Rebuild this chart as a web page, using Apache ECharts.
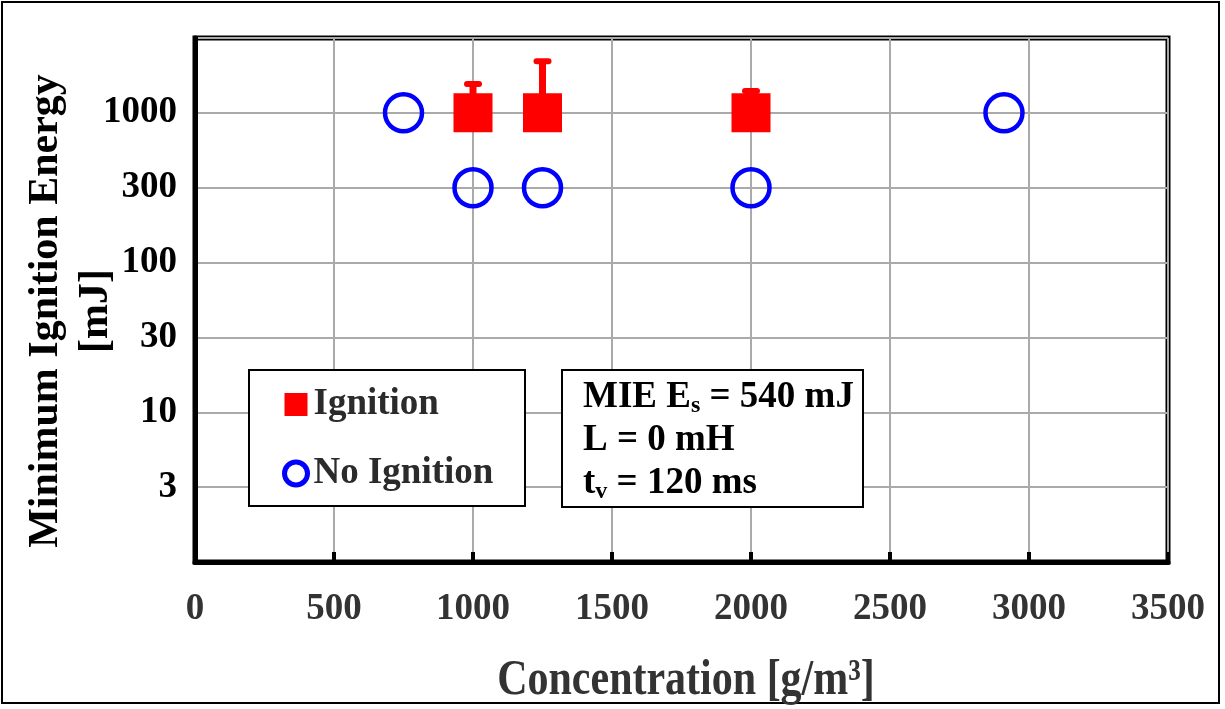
<!DOCTYPE html>
<html>
<head>
<meta charset="utf-8">
<style>
  html, body { margin: 0; padding: 0; background: #fff; }
  #chart { width: 1225px; height: 709px; }
</style>
<script src="https://cdn.jsdelivr.net/npm/echarts@6/dist/echarts.min.js"></script>
</head>
<body>
<div id="chart"></div>
<script>
// Concentration [g/m3] and energy [mJ] of each test
const ignitionConc = [1000, 1250, 2000];
const ignitionEnergy = [1000, 1000, 1000];
// upper end of the ignition error bars [mJ]
const ignitionUpper = [1560, 2210, 1400];

const noIgnitionConc = [750, 1000, 1250, 2000, 2910];
const noIgnitionEnergy = [1000, 316, 316, 316, 1000];

const xTicks = [0, 500, 1000, 1500, 2000, 2500, 3000, 3500];
const yTickLabels = ['3', '10', '30', '100', '300', '1000'];

const FONT = '"Liberation Serif", "Times New Roman", serif';
const chart = echarts.init(document.getElementById('chart'));

const ignitionData = ignitionConc.map((c, i) => [c, ignitionEnergy[i]]);
const noIgnitionData = noIgnitionConc.map((c, i) => [c, noIgnitionEnergy[i]]);
const errorData = ignitionConc.map((c, i) => [c, ignitionEnergy[i], ignitionUpper[i]]);

// half-decade tick values mapped to their rounded labels
function halfDecadeLabel(v) {
  const k = Math.round(Math.log10(v) * 2);
  if (k < 1 || k > 6) return '';
  return yTickLabels[k - 1];
}

const option = {
  backgroundColor: '#fff',
  animation: false,
  grid: {
    left: 195, right: 57, top: 38, bottom: 147,
    show: true, borderColor: '#000', borderWidth: 5, backgroundColor: 'transparent'
  },
  xAxis: {
    type: 'value',
    min: xTicks[0], max: xTicks[xTicks.length - 1], interval: 500,
    axisLine: { show: true, lineStyle: { color: '#000', width: 5 } },
    axisTick: { show: true, inside: true, length: 10, lineStyle: { color: '#000', width: 4 } },
    axisLabel: {
      fontFamily: FONT, fontWeight: 'bold', fontSize: 37, color: '#333', margin: 29,
      formatter: v => String(v)
    },
    splitLine: { show: true, lineStyle: { color: '#aaa', width: 2 } }
  },
  yAxis: {
    type: 'log',
    logBase: Math.sqrt(10),
    min: 1, max: Math.pow(10, 3.5),
    splitNumber: 7,
    axisLine: { show: true, lineStyle: { color: '#000', width: 5 } },
    axisTick: { show: false },
    axisLabel: {
      fontFamily: FONT, fontWeight: 'bold', fontSize: 37, color: '#000', margin: 18,
      showMinLabel: false, showMaxLabel: false,
      formatter: halfDecadeLabel
    },
    splitLine: { show: true, lineStyle: { color: '#aaa', width: 2 } }
  },
  legend: {
    orient: 'vertical',
    z: 30,
    left: 282, top: 386,
    padding: 0,
    itemWidth: 23, itemHeight: 23, itemGap: 32,
    textStyle: { fontFamily: FONT, fontWeight: 'bold', fontSize: 37, color: '#2b2b2b', padding: [0, 0, 0, 1] },
    data: [
      { name: 'Ignition', icon: 'rect' },
      { name: 'No Ignition', icon: 'circle',
        itemStyle: { color: 'rgba(0,0,0,0)', borderColor: '#0000ff', borderWidth: 5 } }
    ]
  },
  series: [
    {
      name: 'Ignition range',
      type: 'custom',
      z: 2,
      data: errorData,
      renderItem: function (params, api) {
        const base = api.coord([api.value(0), api.value(1)]);
        const top = api.coord([api.value(0), api.value(2)]);
        return {
          type: 'group',
          children: [
            { type: 'line', shape: { x1: base[0], y1: base[1], x2: top[0], y2: top[1] },
              style: { stroke: '#ff0000', lineWidth: 7 } },
            { type: 'rect', shape: { x: top[0] - 9, y: top[1] - 3, width: 18, height: 6, r: 3 },
              style: { fill: '#ff0000' } }
          ]
        };
      }
    },
    {
      name: 'Ignition',
      type: 'scatter',
      z: 3,
      symbol: 'rect',
      symbolSize: 39,
      itemStyle: { color: '#ff0000', opacity: 1 },
      data: ignitionData
    },
    {
      name: 'No Ignition',
      type: 'scatter',
      z: 3,
      symbol: 'circle',
      symbolSize: 37,
      itemStyle: { color: 'rgba(0,0,0,0)', borderColor: '#0000ff', borderWidth: 4.5, opacity: 1 },
      data: noIgnitionData
    }
  ],
  graphic: [
    // outer frame
    { type: 'rect', z: 0, shape: { x: 2, y: 2, width: 1217, height: 701 },
      style: { fill: 'none', stroke: '#000', lineWidth: 2 } },
    // legend frame
    { type: 'rect', z: 10, shape: { x: 249, y: 370, width: 276, height: 136 },
      style: { fill: '#fff', stroke: '#000', lineWidth: 2 } },
    // conditions box
    { type: 'rect', z: 10, shape: { x: 562, y: 370, width: 301, height: 137 },
      style: { fill: '#fff', stroke: '#000', lineWidth: 2 } },
    { type: 'text', z: 11, left: 583, top: 377,
      style: {
        text: '{m|MIE E}{s|s}{m| = 540 mJ}\n{m|L = 0 mH}\n{m|t}{s|v}{m| = 120 ms}',
        rich: {
          m: { fontFamily: FONT, fontWeight: 'bold', fontSize: 37, fill: '#000', lineHeight: 43 },
          s: { fontFamily: FONT, fontWeight: 'bold', fontSize: 24, fill: '#000', lineHeight: 43, padding: [17, 0, 0, 0] }
        }
      }
    },
    // x axis title
    { type: 'text', z: 11, x: 686, y: 681, scaleY: 1.2,
      style: { text: 'Concentration [g/m³]', fontFamily: FONT, fontWeight: 'bold', fontSize: 42,
               fill: '#333', align: 'center', verticalAlign: 'middle' } },
    // y axis title (two lines)
    { type: 'text', z: 11, x: 46, y: 311, rotation: Math.PI / 2,
      style: { text: 'Minimum Ignition Energy', fontFamily: FONT, fontWeight: 'bold', fontSize: 42,
               fill: '#000', align: 'center', verticalAlign: 'middle' } },
    { type: 'text', z: 11, x: 96, y: 311, rotation: Math.PI / 2,
      style: { text: '[mJ]', fontFamily: FONT, fontWeight: 'bold', fontSize: 42,
               fill: '#000', align: 'center', verticalAlign: 'middle' } }
  ]
};

chart.setOption(option);
</script>
</body>
</html>
